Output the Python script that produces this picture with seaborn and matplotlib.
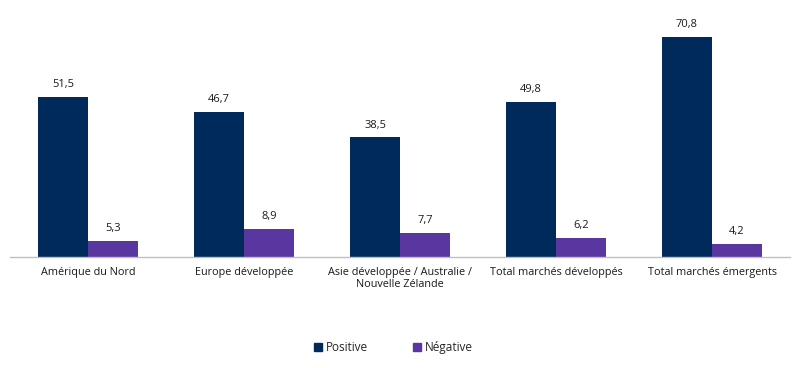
import pandas as pd
import matplotlib.pyplot as plt
import seaborn as sns

# Données
regions = ['Amérique du Nord', 'Europe développée',
           'Asie développée / Australie /\nNouvelle Zélande',
           'Total marchés développés', 'Total marchés émergents']
positive = [51.5, 46.7, 38.5, 49.8, 70.8]
negative = [5.3, 8.9, 7.7, 6.2, 4.2]
series = ['Positive', 'Négative']
couleurs = ['#002a5c', '#5a37a0']

df = pd.DataFrame({
    'region': regions * 2,
    'serie': [series[0]] * len(regions) + [series[1]] * len(regions),
    'valeur': positive + negative,
})

sns.set_style('white')
plt.rcParams['font.family'] = ['Open Sans', 'DejaVu Sans']

fig = plt.figure(figsize=(8, 3.68), dpi=100)
ax = fig.add_axes([0.0125, 0.3016, 0.975, 0.675])

sns.barplot(data=df, x='region', y='valeur', hue='serie',
            palette=couleurs, saturation=1, width=0.64, gap=0,
            linewidth=0, ax=ax, legend=False)

for cont in ax.containers:
    ax.bar_label(cont, labels=[f'{v:.1f}'.replace('.', ',') for v in cont.datavalues],
                 padding=5, fontsize=8, color='#1a1a1a')

ax.set_ylim(0, 80)
ax.set_xlim(-0.5, len(regions) - 0.5)
ax.set_xlabel('')
ax.set_ylabel('')
ax.set_yticks([])
ax.tick_params(axis='x', length=0, labelsize=7.8, labelcolor='#1a1a1a', pad=7)
for s in ['top', 'right', 'left']:
    ax.spines[s].set_visible(False)
ax.spines['bottom'].set_color('#bfbfbf')
ax.spines['bottom'].set_linewidth(1)

handles = [plt.Rectangle((0, 0), 1, 1, color=c) for c in couleurs]
fig.legend(handles, series, loc='center', bbox_to_anchor=(0.492, 0.055), ncol=2,
           frameon=False, fontsize=8.5, handlelength=0.65, handleheight=0.65,
           handletextpad=0.35, columnspacing=3.8)

plt.savefig('out.png', dpi=100)
